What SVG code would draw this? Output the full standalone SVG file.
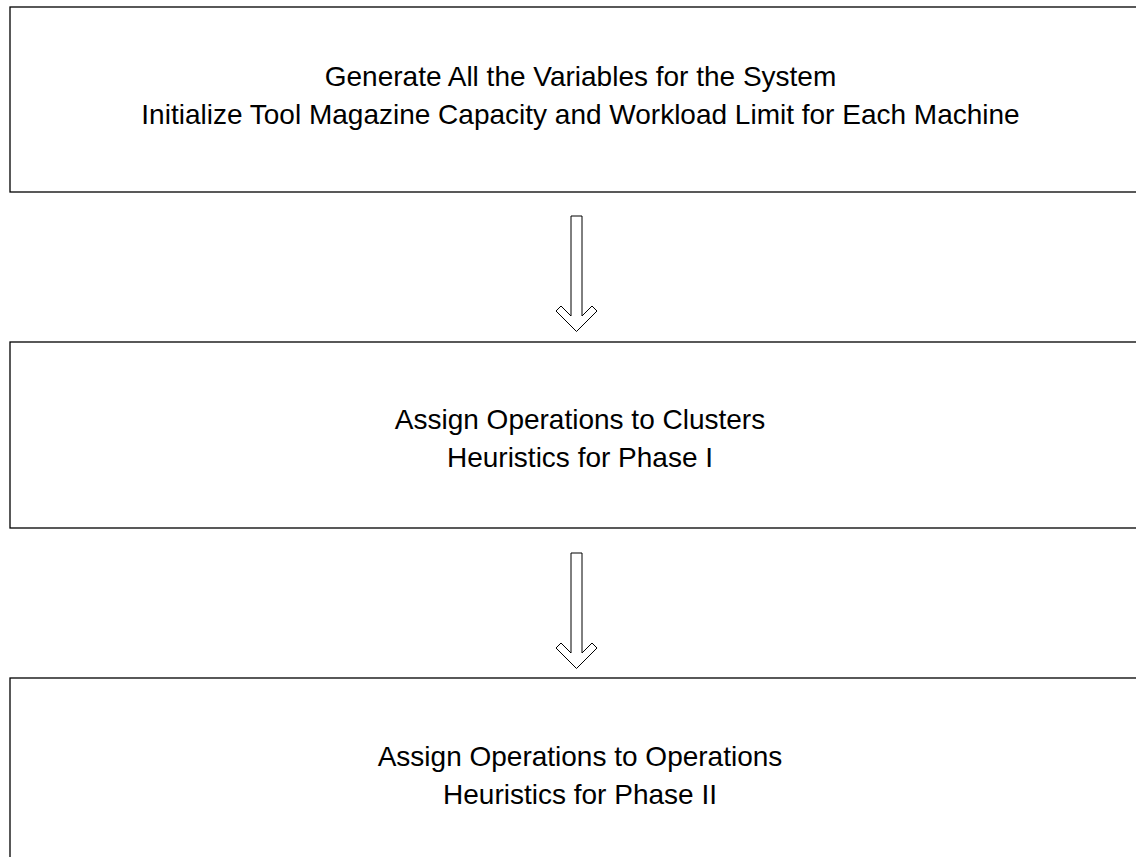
<svg xmlns="http://www.w3.org/2000/svg" width="1136" height="857" viewBox="0 0 1136 857">
<style>
.box{fill:#fff;stroke:#000;stroke-width:1.3}
.t{font-family:"Liberation Sans",Arial,sans-serif;font-size:28px;fill:#000;text-anchor:middle}
.arr{fill:#fff;stroke:#000;stroke-width:1}
</style>
<rect width="1136" height="857" fill="#fff"/>
<g id="node1">
<rect class="box" x="10" y="7" width="1141" height="185"/>
<text class="t" x="580.5" y="86">Generate All the Variables for the System</text>
<text class="t" x="580.5" y="124">Initialize Tool Magazine Capacity and Workload Limit for Each Machine</text>
</g>
<g id="node2">
<rect class="box" x="10" y="342" width="1141" height="186"/>
<text class="t" x="580" y="429">Assign Operations to Clusters</text>
<text class="t" x="580" y="467">Heuristics for Phase I</text>
</g>
<g id="node3">
<rect class="box" x="10" y="678" width="1141" height="200"/>
<text class="t" x="580" y="766">Assign Operations to Operations</text>
<text class="t" x="580" y="804">Heuristics for Phase II</text>
</g>
<g id="connectors">
<polygon class="arr" points="571,216 582,216 582,316 592,306 597,311 576.5,331.5 556,311 561,306 571,316"/>
<polygon class="arr" points="571,553 582,553 582,653 592,643 597,648 576.5,668.5 556,648 561,643 571,653"/>
</g>
</svg>
